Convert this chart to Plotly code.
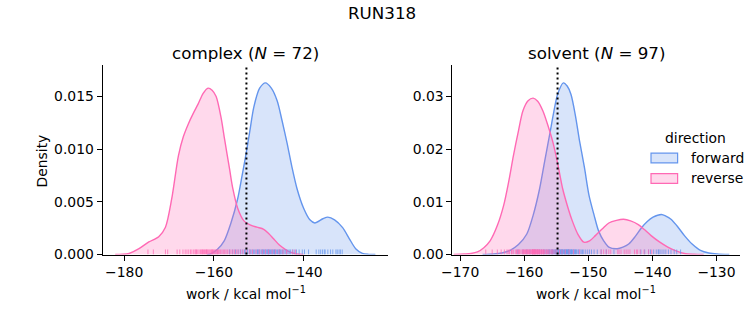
import plotly.graph_objects as go

# ---------------- data ----------------
# KDE curves (work in kcal/mol, density)
complex_fwd_x = [-161.5, -160.6, -159.2, -157.7, -156.2, -154.7, -153.8, -152.9, -152.0, -151.1,
                 -149.8, -148.5, -147.2, -145.9, -144.8, -143.7, -142.6, -141.5, -140.0, -138.6,
                 -137.5, -135.7, -134.6, -133.1, -131.3, -129.8, -128.4, -126.9, -125.5, -124.0]
complex_fwd_y = [0.0, 0.0001, 0.0005, 0.0013, 0.0030, 0.0053, 0.0073, 0.0094, 0.0117, 0.0140,
                 0.0158, 0.0163, 0.0158, 0.0146, 0.0127, 0.0106, 0.0083, 0.0063, 0.0044, 0.0033,
                 0.0030, 0.0034, 0.00355, 0.0033, 0.00256, 0.0015, 0.00056, 0.00012, 0.00002, 0.0]

complex_rev_x = [-182.0, -179.5, -178.9, -176.7, -174.5, -172.3, -170.8, -169.4, -167.9, -166.8,
                 -165.7, -164.6, -163.5, -162.4, -161.3, -160.4, -159.5, -158.4, -157.6, -156.5,
                 -155.8, -154.7, -153.3, -151.8, -150.4, -148.9, -147.8, -146.7, -145.4, -144.1,
                 -142.8, -141.5, -140.0]
complex_rev_y = [0.0, 0.00005, 0.0001, 0.00056, 0.0012, 0.0017, 0.0026, 0.0053, 0.0094, 0.0112,
                 0.0124, 0.0134, 0.0143, 0.0153, 0.0158, 0.0156, 0.0150, 0.0130, 0.0109, 0.0081,
                 0.0063, 0.0044, 0.0032, 0.0028, 0.0026, 0.0024, 0.0020, 0.0015, 0.0009, 0.0005,
                 0.0002, 0.00005, 0.0]

solvent_fwd_x = [-166.5, -164.8, -163.5, -162.2, -160.9, -159.6, -158.6, -157.6, -156.8, -156.0,
                 -155.4, -154.8, -153.9, -153.3, -152.7, -152.0, -151.4, -150.6, -149.9, -149.1,
                 -148.4, -147.6, -146.8, -145.5, -144.6, -143.7, -142.7, -141.7, -140.8, -139.9,
                 -138.6, -137.9, -137.1, -136.0, -135.0, -133.8, -132.5, -131.2, -129.9, -128.0]
solvent_fwd_y = [0.0, 0.0001, 0.0003, 0.0008, 0.0019, 0.0039, 0.0075, 0.0125, 0.0178, 0.0230,
                 0.0270, 0.0304, 0.0326, 0.0320, 0.0304, 0.0263, 0.0218, 0.0165, 0.0113, 0.0075,
                 0.0045, 0.0026, 0.0014, 0.0011, 0.0014, 0.0020, 0.0034, 0.0051, 0.0063, 0.0071,
                 0.0076, 0.0073, 0.0067, 0.0052, 0.0036, 0.0020, 0.0008, 0.0003, 0.0001, 0.0]

solvent_rev_x = [-171.0, -169.4, -168.3, -167.3, -166.3, -165.3, -164.2, -163.2, -162.4, -161.7,
                 -160.9, -160.2, -159.4, -158.6, -157.9, -157.1, -156.3, -155.5, -154.7, -154.0,
                 -153.2, -152.5, -151.6, -150.7, -149.8, -148.9, -147.8, -146.8, -145.6, -144.5,
                 -143.4, -142.2, -141.2, -140.2, -138.9, -137.6, -136.3, -135.0, -133.5, -132.0]
solvent_rev_y = [0.0, 0.0001, 0.0002, 0.0005, 0.0013, 0.00265, 0.0055, 0.0094, 0.0140, 0.0187,
                 0.0235, 0.0273, 0.0292, 0.0297, 0.0291, 0.0273, 0.0245, 0.0212, 0.0168, 0.0125,
                 0.0090, 0.0064, 0.0038, 0.00235, 0.0026, 0.0036, 0.0049, 0.0060, 0.0065, 0.0067,
                 0.0064, 0.0057, 0.0047, 0.0036, 0.0024, 0.00142, 0.0007, 0.0002, 0.00005, 0.0]

# individual work values (rug)
complex_fwd_work = [-156.5, -155.8, -155.2, -154.6, -154.1, -153.7, -153.2, -152.9, -152.5, -152.1,
                    -151.8, -151.5, -151.2, -150.9, -150.6, -150.3, -150.0, -149.8, -149.5, -149.3,
                    -149.0, -148.8, -148.6, -148.4, -148.2, -148.0, -147.8, -147.6, -147.4, -147.2,
                    -147.0, -146.8, -146.5, -146.3, -146.0, -145.8, -145.5, -145.2, -145.0, -144.7,
                    -144.4, -144.1, -143.8, -143.5, -143.2, -142.9, -142.5, -142.1, -141.6, -141.0,
                    -140.3, -139.8, -138.9, -137.2, -136.6, -136.2, -135.8, -135.4, -135.2, -134.6,
                    -134.0, -133.5, -132.8, -132.5, -132.1, -131.8, -131.4, -150.2, -149.1, -147.9,
                    -146.6, -145.4]
complex_rev_work = [-174.7, -173.5, -170.8, -170.3, -168.2, -167.6, -166.9, -166.4, -166.0, -165.6,
                    -165.2, -164.9, -164.5, -164.2, -163.9, -163.6, -163.3, -163.0, -162.8, -162.5,
                    -162.3, -162.1, -161.9, -161.7, -161.5, -161.3, -161.1, -160.9, -160.7, -160.5,
                    -160.3, -160.1, -159.9, -159.7, -159.5, -159.3, -159.0, -158.8, -158.5, -158.2,
                    -157.9, -157.6, -157.3, -157.0, -156.6, -156.2, -155.8, -155.4, -155.0, -154.6,
                    -154.1, -153.5, -152.8, -152.0, -151.4, -150.6, -149.9, -149.2, -148.5, -147.8,
                    -147.0, -146.3, -145.5, -144.6, -143.8, -142.4, -141.8, -162.6, -161.6, -160.4,
                    -159.2, -164.0]
solvent_fwd_work = [-161.0, -160.2, -159.6, -159.1, -158.7, -158.3, -157.9, -157.6, -157.3, -157.0,
                    -156.8, -156.6, -156.4, -156.2, -156.0, -155.8, -155.6, -155.4, -155.3, -155.1,
                    -155.0, -154.9, -154.8, -154.7, -154.6, -154.5, -154.4, -154.3, -154.2, -154.1,
                    -154.0, -153.9, -153.8, -153.7, -153.6, -153.5, -153.4, -153.3, -153.2, -153.1,
                    -153.0, -152.9, -152.8, -152.7, -152.6, -152.5, -152.4, -152.3, -152.1, -152.0,
                    -151.8, -151.6, -151.5, -151.3, -151.1, -150.9, -150.7, -150.4, -150.1, -149.8,
                    -149.5, -149.1, -148.6, -148.0, -147.2, -146.0, -154.25, -153.65, -153.15, -152.65,
                    -155.15, -155.55, -156.1, -153.35, -154.55, -151.9, -152.2, -153.05, -154.05, -155.7,
                    -141.8, -141.2, -140.6, -140.3, -139.8, -139.4, -139.1, -138.8, -138.5, -138.2,
                    -137.9, -137.5, -137.1, -136.6, -136.2, -135.6, -139.0]
solvent_rev_work = [-166.0, -165.0, -164.2, -163.6, -163.1, -162.7, -162.3, -162.0, -161.7, -161.4,
                    -161.1, -160.9, -160.7, -160.5, -160.3, -160.1, -159.9, -159.7, -159.5, -159.4,
                    -159.2, -159.1, -158.9, -158.8, -158.7, -158.6, -158.5, -158.4, -158.3, -158.2,
                    -158.1, -158.0, -157.9, -157.8, -157.6, -157.5, -157.3, -157.2, -157.0, -156.8,
                    -156.6, -156.4, -156.2, -156.0, -155.8, -155.5, -155.2, -154.9, -154.5, -154.1,
                    -153.6, -153.0, -152.3, -151.4, -158.45, -158.75, -159.05, -158.15, -157.65, -159.35,
                    -160.2, -160.8, -157.1, -161.2, -156.5, -158.35, -157.95, -159.6, -158.55, -157.4,
                    -162.5, -155.65, -160.0, -158.65, -157.75, -159.8, -161.9, -156.9,
                    -148.0, -147.6, -147.2, -146.8, -146.5, -145.4, -145.2, -144.9, -144.4, -144.1,
                    -143.8, -143.5, -142.8, -142.5, -142.3, -141.9, -141.3, -140.6, -140.1]

# free energy estimates (dotted lines)
complex_dg = [-152.75]
solvent_dg = [-154.8]

complex_xticks = [-180, -160, -140]
solvent_xticks = [-170, -160, -150, -140, -130]
complex_yticks = [0.0, 0.005, 0.010, 0.015]
solvent_yticks = [0.0, 0.01, 0.02, 0.03]

directions = ["forward", "reverse"]
panel_titles = ["complex (<i>N</i> = 72)", "solvent (<i>N</i> = 97)"]
suptitle = "RUN318"
xlabel = "work / kcal mol<sup>\u22121</sup>"
ylabel = "Density"

# ---------------- style ----------------
FONT = "DejaVu Sans"
BLUE = "#6495ED"
PINK = "#FF69B4"
BLUE_FILL = "rgba(100,149,237,0.25)"
PINK_FILL = "rgba(255,105,180,0.25)"
BLUE_RUG = "rgba(100,149,237,0.75)"
PINK_RUG = "rgba(255,105,180,0.75)"

W, H = 753, 325
def px_x(p):
    return p / W
def px_y(p):
    return 1 - p / H

fig = go.Figure()

def kde(x, y, color, fill, xa, ya):
    fig.add_trace(go.Scatter(x=x, y=y, mode="lines", fill="tozeroy", fillcolor=fill,
                             line=dict(color=color, width=1.4, shape="spline", smoothing=0.8),
                             xaxis=xa, yaxis=ya, showlegend=False, hoverinfo="skip"))

def rug(vals, color, xa, ya):
    xs, ys = [], []
    for v in vals:
        xs += [v, v, None]
        ys += [0, 0.027, None]
    fig.add_trace(go.Scatter(x=xs, y=ys, mode="lines", line=dict(color=color, width=1),
                             xaxis=xa, yaxis=ya, showlegend=False, hoverinfo="skip"))

kde(complex_fwd_x, complex_fwd_y, BLUE, BLUE_FILL, "x", "y")
kde(complex_rev_x, complex_rev_y, PINK, PINK_FILL, "x", "y")
kde(solvent_fwd_x, solvent_fwd_y, BLUE, BLUE_FILL, "x2", "y2")
kde(solvent_rev_x, solvent_rev_y, PINK, PINK_FILL, "x2", "y2")
rug(complex_fwd_work, BLUE_RUG, "x", "y3")
rug(complex_rev_work, PINK_RUG, "x", "y3")
rug(solvent_fwd_work, BLUE_RUG, "x2", "y4")
rug(solvent_rev_work, PINK_RUG, "x2", "y4")

ydom = [px_y(261), px_y(67)]
axis_common = dict(showline=True, linecolor="black", linewidth=1, ticks="outside", ticklen=5,
                   tickwidth=1, tickcolor="black", showgrid=False, zeroline=False,
                   tickfont=dict(family=FONT, size=13.9, color="black"), mirror=False)

fig.update_layout(
    width=W, height=H, margin=dict(l=0, r=0, t=0, b=0),
    paper_bgcolor="white", plot_bgcolor="rgba(0,0,0,0)",
    font=dict(family=FONT, color="black"),
    showlegend=False,
    xaxis=dict(domain=[px_x(93), px_x(383)], range=[-184.8, -121.1], anchor="y",
               tickvals=complex_xticks, **axis_common),
    yaxis=dict(domain=ydom, range=[0, 0.01796], anchor="x", tickvals=complex_yticks,
               tickformat=".3f", **axis_common),
    xaxis2=dict(domain=[px_x(448), px_x(740)], range=[-171.2, -126.3], anchor="y2",
                tickvals=solvent_xticks, **axis_common),
    yaxis2=dict(domain=ydom, range=[0, 0.03593], anchor="x2", tickvals=solvent_yticks,
                tickformat=".2f", **axis_common),
    yaxis3=dict(overlaying="y", range=[0, 1], visible=False, anchor="x"),
    yaxis4=dict(overlaying="y2", range=[0, 1], visible=False, anchor="x2"),
)

for xref, vals in (("x", complex_dg), ("x2", solvent_dg)):
    for v in vals:
        fig.add_shape(type="line", xref=xref, yref=("y domain" if xref == "x" else "y2 domain"),
                      x0=v, x1=v, y0=0, y1=1,
                      line=dict(color="black", width=2, dash="2px,3px"))

ann = []
ann.append(dict(text=suptitle, x=px_x(376.5), y=px_y(13), font=dict(size=16.7)))
ann.append(dict(text=panel_titles[0], x=px_x(238), y=px_y(54), font=dict(size=16.7)))
ann.append(dict(text=panel_titles[1], x=px_x(594), y=px_y(54), font=dict(size=16.7)))
ann.append(dict(text=xlabel, x=px_x(238), y=px_y(300), font=dict(size=13.9)))
ann.append(dict(text=xlabel, x=px_x(594), y=px_y(300), font=dict(size=13.9)))
ann.append(dict(text=ylabel, x=px_x(31), y=px_y(165), font=dict(size=13.9), textangle=-90))
# legend
ann.append(dict(text="direction", x=px_x(695), y=px_y(141), font=dict(size=13.9)))
leg_colors = [(BLUE, BLUE_FILL), (PINK, PINK_FILL)]
leg_rows = [162, 183]
for name, (lc, fc), row in zip(directions, leg_colors, leg_rows):
    fig.add_shape(type="rect", xref="paper", yref="paper",
                  x0=px_x(649.5), x1=px_x(676.5), y0=px_y(row + 5), y1=px_y(row - 5),
                  line=dict(color=lc, width=1.2), fillcolor=fc)
    ann.append(dict(text=name, x=px_x(688), y=px_y(row), xanchor="left", font=dict(size=13.9)))

for a in ann:
    a.setdefault("xanchor", "center")
    a.update(xref="paper", yref="paper", yanchor="middle", showarrow=False)
    a["font"].update(family=FONT, color="black")
    fig.add_annotation(**a)

fig.write_html("out.html")
